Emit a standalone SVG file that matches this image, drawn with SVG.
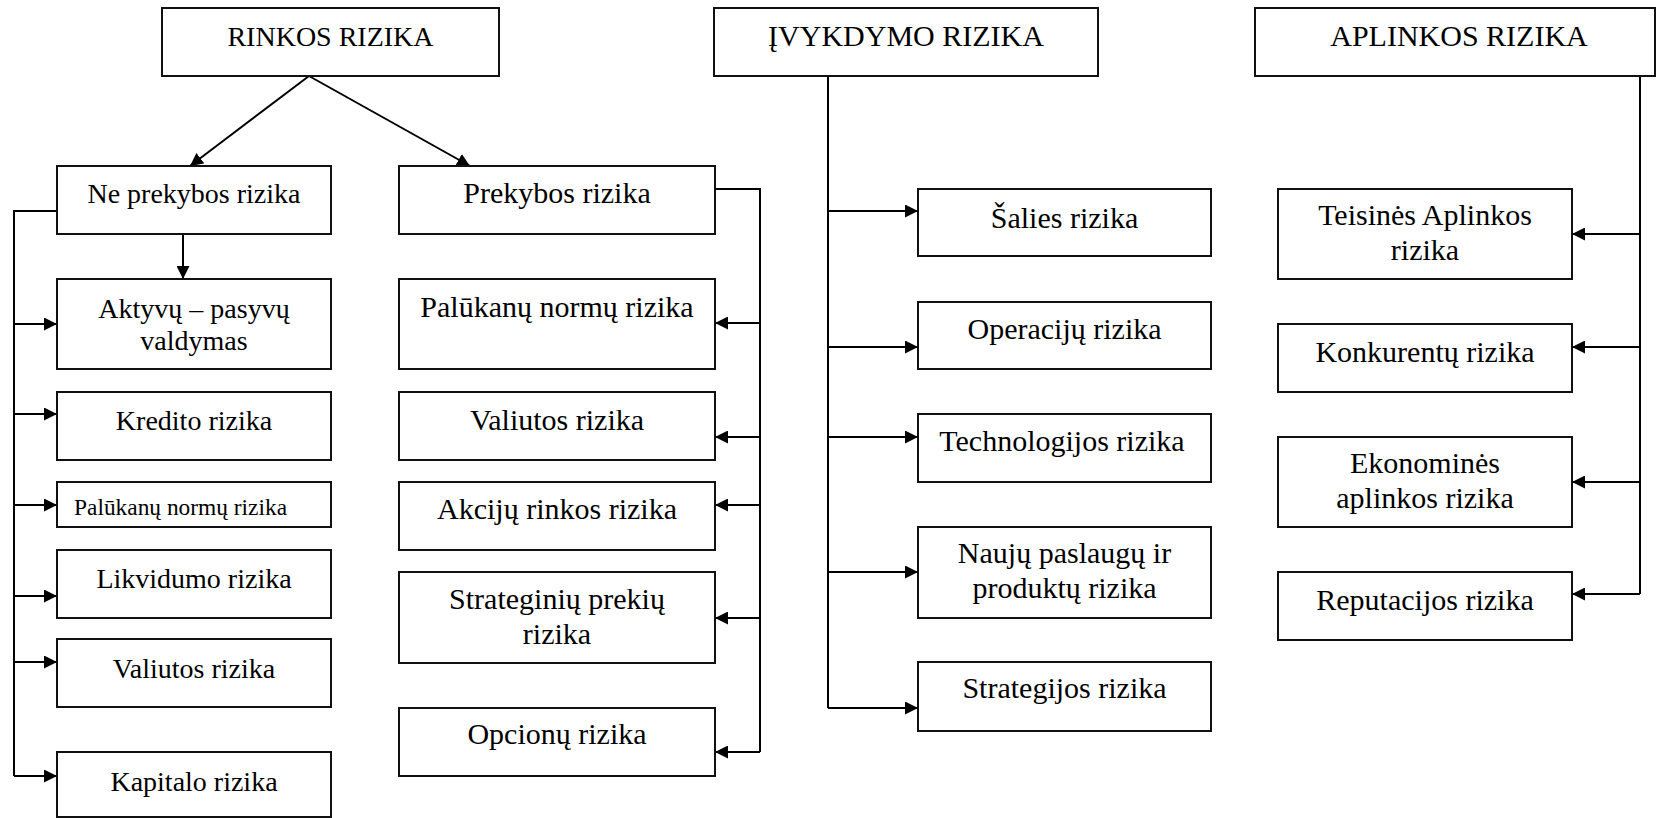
<svg xmlns="http://www.w3.org/2000/svg" width="1656" height="818" viewBox="0 0 1656 818">
<defs>
<marker id="arr" viewBox="0 0 13 13" refX="13" refY="6.5" markerWidth="13" markerHeight="13" markerUnits="userSpaceOnUse" orient="auto">
<path d="M0,0 L13,6.5 L0,13 z" fill="#000"/>
</marker>
<style>
.box{fill:#fff;stroke:#111;stroke-width:2}
.t{font-family:"Liberation Serif","Times New Roman",serif;fill:#000;text-anchor:middle}
.s28{font-size:28px}
.s30{font-size:30px}
.c{fill:none;stroke:#000;stroke-width:2}
.a{fill:none;stroke:#000;stroke-width:2;marker-end:url(#arr)}
</style>
</defs>
<rect width="1656" height="818" fill="#fff"/>

<g id="connectors">
<path class="a" d="M309,76 L190,166"/>
<path class="a" d="M309,76 L470,166"/>
<path class="a" d="M183,234 V279"/>
<path class="c" d="M57,211 H14 V776"/>
<path class="a" d="M14,324 H57"/>
<path class="a" d="M14,414 H57"/>
<path class="a" d="M14,505 H57"/>
<path class="a" d="M14,596 H57"/>
<path class="a" d="M14,662 H57"/>
<path class="a" d="M14,776 H57"/>
<path class="c" d="M715,189 H760 V752"/>
<path class="a" d="M760,323 H715"/>
<path class="a" d="M760,437 H715"/>
<path class="a" d="M760,505 H715"/>
<path class="a" d="M760,618 H715"/>
<path class="a" d="M760,752 H715"/>
<path class="c" d="M828,76 V708"/>
<path class="a" d="M828,211 H918"/>
<path class="a" d="M828,347 H918"/>
<path class="a" d="M828,437 H918"/>
<path class="a" d="M828,572 H918"/>
<path class="a" d="M828,708 H918"/>
<path class="c" d="M1640,76 V594"/>
<path class="a" d="M1640,234 H1572"/>
<path class="a" d="M1640,347 H1572"/>
<path class="a" d="M1640,482 H1572"/>
<path class="a" d="M1640,594 H1572"/>
</g>

<g id="rinkos"><rect class="box" x="162" y="8" width="337" height="68"/><text class="t s28" x="330.5" y="46">RINKOS RIZIKA</text></g>
<g id="ivykdymo"><rect class="box" x="714" y="8" width="384" height="68"/><text class="t s30" x="906" y="46">ĮVYKDYMO RIZIKA</text></g>
<g id="aplinkos"><rect class="box" x="1255" y="8" width="400" height="68"/><text class="t s30" x="1459" y="46">APLINKOS RIZIKA</text></g>

<g id="ne-prekybos"><rect class="box" x="57" y="166" width="274" height="68"/><text class="t s28" x="194" y="203">Ne prekybos rizika</text></g>
<g id="aktyvu"><rect class="box" x="57" y="279" width="274" height="90"/><text class="t s28" x="194" y="318">Aktyvų – pasyvų</text><text class="t s28" x="194" y="350">valdymas</text></g>
<g id="kredito"><rect class="box" x="57" y="392" width="274" height="68"/><text class="t s28" x="194" y="430">Kredito rizika</text></g>
<g id="palukanu1"><rect class="box" x="57" y="482" width="274" height="45"/><text class="t" style="font-size:23.4px;text-anchor:start" x="74" y="515">Palūkanų normų rizika</text></g>
<g id="likvidumo"><rect class="box" x="57" y="550" width="274" height="68"/><text class="t s28" x="194" y="588">Likvidumo rizika</text></g>
<g id="valiutos1"><rect class="box" x="57" y="639" width="274" height="68"/><text class="t s28" x="194" y="678">Valiutos rizika</text></g>
<g id="kapitalo"><rect class="box" x="57" y="752" width="274" height="65"/><text class="t s28" x="194" y="791">Kapitalo rizika</text></g>

<g id="prekybos"><rect class="box" x="399" y="166" width="316" height="68"/><text class="t s30" x="557" y="203">Prekybos rizika</text></g>
<g id="palukanu2"><rect class="box" x="399" y="279" width="316" height="90"/><text class="t s30" x="557" y="317">Palūkanų normų rizika</text></g>
<g id="valiutos2"><rect class="box" x="399" y="392" width="316" height="68"/><text class="t s30" x="557" y="430">Valiutos rizika</text></g>
<g id="akciju"><rect class="box" x="399" y="482" width="316" height="68"/><text class="t s30" x="557" y="519">Akcijų rinkos rizika</text></g>
<g id="strateginiu"><rect class="box" x="399" y="572" width="316" height="91"/><text class="t s30" x="557" y="609">Strateginių prekių</text><text class="t s30" x="557" y="644">rizika</text></g>
<g id="opcionu"><rect class="box" x="399" y="708" width="316" height="68"/><text class="t s30" x="557" y="744">Opcionų rizika</text></g>

<g id="salies"><rect class="box" x="918" y="189" width="293" height="67"/><text class="t s30" x="1064.5" y="228">Šalies rizika</text></g>
<g id="operaciju"><rect class="box" x="918" y="302" width="293" height="67"/><text class="t s30" x="1064.5" y="339">Operacijų rizika</text></g>
<g id="technologijos"><rect class="box" x="918" y="414" width="293" height="68"/><text class="t s30" x="1062" y="451">Technologijos rizika</text></g>
<g id="nauju"><rect class="box" x="918" y="527" width="293" height="91"/><text class="t s30" x="1064.5" y="563">Naujų paslaugų ir</text><text class="t s30" x="1064.5" y="598">produktų rizika</text></g>
<g id="strategijos"><rect class="box" x="918" y="662" width="293" height="69"/><text class="t s30" x="1064.5" y="698">Strategijos rizika</text></g>

<g id="teisines"><rect class="box" x="1278" y="189" width="294" height="90"/><text class="t s30" x="1425" y="225">Teisinės Aplinkos</text><text class="t s30" x="1425" y="260">rizika</text></g>
<g id="konkurentu"><rect class="box" x="1278" y="324" width="294" height="68"/><text class="t s30" x="1425" y="362">Konkurentų rizika</text></g>
<g id="ekonomines"><rect class="box" x="1278" y="437" width="294" height="90"/><text class="t s30" x="1425" y="473">Ekonominės</text><text class="t s30" x="1425" y="508">aplinkos rizika</text></g>
<g id="reputacijos"><rect class="box" x="1278" y="572" width="294" height="68"/><text class="t s30" x="1425" y="610">Reputacijos rizika</text></g>
</svg>
